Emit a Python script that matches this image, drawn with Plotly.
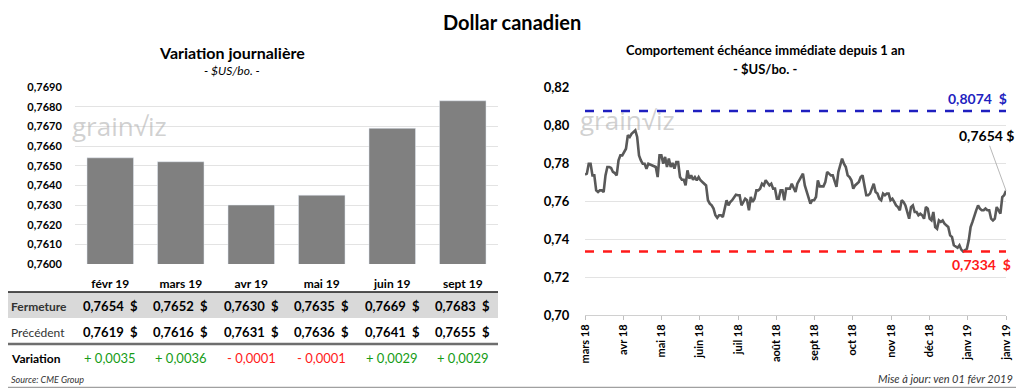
import numpy as np
import plotly.graph_objects as go

# ---------------- data ----------------
months = ["févr 19", "mars 19", "avr 19", "mai 19", "juin 19", "sept 19"]
fermeture = [0.7654, 0.7652, 0.7630, 0.7635, 0.7669, 0.7683]
precedent = [0.7619, 0.7616, 0.7631, 0.7636, 0.7641, 0.7655]
variation = [0.0035, 0.0036, -0.0001, -0.0001, 0.0029, 0.0029]

hist_ticks = ["mars 18", "avr 18", "mai 18", "juin 18", "juil 18", "août 18",
              "sept 18", "oct 18", "nov 18", "déc 18", "janv 19", "janv 19"]
hist_values = [
    0.7739, 0.7744, 0.7796, 0.7796, 0.7735, 0.7735, 0.7656, 0.7647, 0.7656, 0.7656,
    0.7647, 0.7735, 0.7779, 0.7779, 0.7774, 0.7753, 0.7747, 0.7735, 0.7814, 0.7840,
    0.7840, 0.7858, 0.7875, 0.7946, 0.7937, 0.7954, 0.7963, 0.7972, 0.7937, 0.7840,
    0.7814, 0.7796, 0.7796, 0.7770, 0.7796, 0.7791, 0.7788, 0.7782, 0.7779, 0.7726,
    0.7840, 0.7840, 0.7796, 0.7832, 0.7779, 0.7823, 0.7779, 0.7800, 0.7770, 0.7805,
    0.7805, 0.7726, 0.7712, 0.7712, 0.7682, 0.7761, 0.7718, 0.7735, 0.7712, 0.7726,
    0.7709, 0.7726, 0.7709, 0.7700, 0.7691, 0.7682, 0.7604, 0.7586, 0.7577, 0.7560,
    0.7525, 0.7512, 0.7525, 0.7525, 0.7516, 0.7568, 0.7604, 0.7577, 0.7595, 0.7604,
    0.7621, 0.7633, 0.7630, 0.7630, 0.7577, 0.7595, 0.7612, 0.7604, 0.7551, 0.7621,
    0.7595, 0.7612, 0.7656, 0.7656, 0.7665, 0.7691, 0.7682, 0.7709, 0.7695, 0.7682,
    0.7691, 0.7665, 0.7665, 0.7612, 0.7612, 0.7656, 0.7656, 0.7604, 0.7665, 0.7665,
    0.7665, 0.7691, 0.7665, 0.7647, 0.7691, 0.7709, 0.7726, 0.7744, 0.7682, 0.7647,
    0.7612, 0.7586, 0.7604, 0.7604, 0.7621, 0.7709, 0.7677, 0.7677, 0.7677, 0.7700,
    0.7753, 0.7744, 0.7735, 0.7735, 0.7709, 0.7674, 0.7753, 0.7796, 0.7823, 0.7796,
    0.7779, 0.7735, 0.7726, 0.7709, 0.7665, 0.7682, 0.7691, 0.7700, 0.7726, 0.7735,
    0.7682, 0.7630, 0.7630, 0.7639, 0.7665, 0.7691, 0.7647, 0.7639, 0.7612, 0.7604,
    0.7639, 0.7630, 0.7639, 0.7639, 0.7604, 0.7612, 0.7595, 0.7577, 0.7568, 0.7551,
    0.7604, 0.7595, 0.7577, 0.7542, 0.7507, 0.7568, 0.7577, 0.7542, 0.7542, 0.7525,
    0.7533, 0.7525, 0.7507, 0.7568, 0.7560, 0.7507, 0.7498, 0.7542, 0.7463, 0.7454,
    0.7498, 0.7490, 0.7498, 0.7481, 0.7472, 0.7463, 0.7419, 0.7411, 0.7367, 0.7358,
    0.7354, 0.7367, 0.7344, 0.7334, 0.7340, 0.7349, 0.7393, 0.7463, 0.7490, 0.7525,
    0.7551, 0.7577, 0.7560, 0.7551, 0.7551, 0.7560, 0.7551, 0.7551, 0.7507, 0.7498,
    0.7507, 0.7568, 0.7551, 0.7533, 0.7621, 0.7630, 0.7654,
]
high_1y = 0.8074
low_1y = 0.7334

# ---------------- helpers ----------------
# The page body has an 8px margin: the figure is sized so that it ends exactly
# at the window edge, and page-pixel positions are converted to paper units.
OFF = 8
W, H = 1024 - OFF, 388 - OFF
FONT = "Lato"


def px(x):
    return (x - OFF) / W


def py(y):
    return 1 - (y - OFF) / H


def fr(v, dec=4):
    return f"{v:.{dec}f}".replace(".", ",")


fig = go.Figure()

# Left: bars
fig.add_trace(go.Bar(
    x=months, y=fermeture, marker_color="#808080", xaxis="x", yaxis="y",
    showlegend=False, hoverinfo="x+y",
))

# Right: line
idx = list(range(len(hist_values)))
n_last = len(hist_values) - 1
fig.add_trace(go.Scatter(
    x=idx, y=hist_values, mode="lines", line=dict(color="#595959", width=2.6),
    xaxis="x2", yaxis="y2", showlegend=False,
))
fig.add_trace(go.Scatter(
    x=[0, n_last], y=[high_1y, high_1y], mode="lines",
    line=dict(color="#1f1fbf", width=2.6, dash="dash"),
    xaxis="x2", yaxis="y2", showlegend=False,
))
fig.add_trace(go.Scatter(
    x=[0, n_last], y=[low_1y, low_1y], mode="lines",
    line=dict(color="#ff1a1a", width=2.6, dash="dash"),
    xaxis="x2", yaxis="y2", showlegend=False,
))

tickpos = list(np.linspace(0, n_last, len(hist_ticks)))

grid = "#e3e3e3"
fig.update_layout(
    width=W, height=H,
    margin=dict(l=0, r=0, t=0, b=0, pad=0, autoexpand=False),
    paper_bgcolor="white", plot_bgcolor="white",
    separators=", ",
    font=dict(family=FONT, color="black"),
    bargap=0.34,
    xaxis=dict(
        domain=[px(75), px(498)], type="category",
        tickfont=dict(size=12, weight="bold", family=FONT),
        ticks="outside", ticklen=9, tickcolor="rgba(0,0,0,0)",
        showgrid=False, showline=False, zeroline=False, fixedrange=True,
        automargin=False,
    ),
    yaxis=dict(
        domain=[py(264), py(87)], range=[0.7600, 0.7690],
        tickvals=[0.7600 + 0.0010 * i for i in range(10)],
        tickformat=".4f", ticksuffix=" $",
        tickfont=dict(size=11, weight="bold", family=FONT),
        ticks="outside", ticklen=10, tickcolor="rgba(0,0,0,0)",
        showgrid=True, gridcolor=grid, gridwidth=1,
        zeroline=False, showline=False, automargin=False,
    ),
    xaxis2=dict(
        domain=[px(585), px(1006)], range=[0, n_last], anchor="y2",
        tickvals=tickpos, ticktext=hist_ticks, tickangle=-90,
        tickfont=dict(size=11, weight="bold", family=FONT),
        ticks="outside", ticklen=4, tickcolor="#bfbfbf",
        showline=True, linecolor="#d0d0d0", linewidth=1,
        showgrid=False, zeroline=False, automargin=False,
    ),
    yaxis2=dict(
        domain=[py(315), py(87)], range=[0.70, 0.82], anchor="x2",
        tickvals=[0.70, 0.72, 0.74, 0.76, 0.78, 0.80, 0.82],
        tickformat=".2f", ticksuffix=" $",
        tickfont=dict(size=13, weight="bold", family=FONT),
        ticks="outside", ticklen=12, tickcolor="rgba(0,0,0,0)",
        showgrid=True, gridcolor=grid, gridwidth=1,
        zeroline=False, showline=False, automargin=False,
    ),
)

shapes = []
# Table decorations
shapes.append(dict(type="rect", xref="paper", yref="paper",
                   x0=px(8), x1=px(498), y0=py(318), y1=py(292),
                   fillcolor="#d9d9d9", line=dict(width=0), layer="below"))
shapes.append(dict(type="line", xref="paper", yref="paper",
                   x0=px(8), x1=px(498), y0=py(292), y1=py(292),
                   line=dict(color="#1a1a1a", width=1.5)))
shapes.append(dict(type="line", xref="paper", yref="paper",
                   x0=px(8), x1=px(498), y0=py(344), y1=py(344),
                   line=dict(color="#6e6e6e", width=2.5)))
# Outer frame (right and bottom edges)
shapes.append(dict(type="line", xref="paper", yref="paper",
                   x0=px(1023.4), x1=px(1023.4), y0=py(387.4), y1=py(8),
                   line=dict(color="#a0a0a0", width=1.2)))
shapes.append(dict(type="line", xref="paper", yref="paper",
                   x0=px(8), x1=px(1023.4), y0=py(387.4), y1=py(387.4),
                   line=dict(color="#a0a0a0", width=1.2)))

ann = []
# Titles
ann.append(dict(text="<b>Dollar canadien</b>", x=px(512), y=py(22), xref="paper", yref="paper",
                showarrow=False, font=dict(size=20, family=FONT), xanchor="center", yanchor="middle"))
ann.append(dict(text="<b>Variation journalière</b>", x=px(232), y=py(52), xref="paper", yref="paper",
                showarrow=False, font=dict(size=16, family=FONT), xanchor="center", yanchor="middle"))
ann.append(dict(text="<i>- $US/bo. -</i>", x=px(232), y=py(70), xref="paper", yref="paper",
                showarrow=False, font=dict(size=12, family=FONT), xanchor="center", yanchor="middle"))
ann.append(dict(text="<b>Comportement échéance immédiate depuis 1 an</b>", x=px(765), y=py(50),
                xref="paper", yref="paper", showarrow=False, font=dict(size=13, family=FONT),
                xanchor="center", yanchor="middle"))
ann.append(dict(text="<b>- $US/bo. -</b>", x=px(765), y=py(69), xref="paper", yref="paper",
                showarrow=False, font=dict(size=13, family=FONT), xanchor="center", yanchor="middle"))

# Watermarks
for wx, wy in [(70, 126), (578, 120)]:
    ann.append(dict(text="grain√iz", x=px(wx), y=py(wy), xref="paper", yref="paper",
                    showarrow=False, font=dict(size=26, family="Open Sans", color="rgba(170,170,170,0.55)"),
                    xanchor="left", yanchor="middle"))

# Table row labels
ann.append(dict(text="<b>Fermeture</b>", x=px(9), y=py(306), xref="paper", yref="paper",
                showarrow=False, font=dict(size=12, family=FONT, color="#333333"), xanchor="left", yanchor="middle"))
ann.append(dict(text="Précédent", x=px(9), y=py(332), xref="paper", yref="paper",
                showarrow=False, font=dict(size=12, family=FONT, color="#333333"), xanchor="left", yanchor="middle"))
ann.append(dict(text="<b>Variation</b>", x=px(9), y=py(358), xref="paper", yref="paper",
                showarrow=False, font=dict(size=12, family=FONT), xanchor="left", yanchor="middle"))

for m, f, p, v in zip(months, fermeture, precedent, variation):
    ann.append(dict(text=f"<b>{fr(f)}  $</b>", x=m, y=py(306), xref="x", yref="paper",
                    showarrow=False, font=dict(size=13, family=FONT), xanchor="center", yanchor="middle"))
    ann.append(dict(text=f"<b>{fr(p)}  $</b>", x=m, y=py(332), xref="x", yref="paper",
                    showarrow=False, font=dict(size=13, family=FONT), xanchor="center", yanchor="middle"))
    sign = "+" if v >= 0 else "-"
    col = "#169c16" if v >= 0 else "#ff1a1a"
    ann.append(dict(text=f"{sign} {fr(abs(v))}", x=m, y=py(358), xref="x", yref="paper",
                    showarrow=False, font=dict(size=13, family=FONT, color=col),
                    xanchor="center", yanchor="middle"))

ann.append(dict(text="<i>Source: CME Group</i>", x=px(9), y=py(379), xref="paper", yref="paper",
                showarrow=False, font=dict(size=9, family=FONT, color="#333333"), xanchor="left", yanchor="middle"))
ann.append(dict(text="<i>Mise à jour: ven 01 févr 2019</i>", x=px(1015), y=py(378), xref="paper", yref="paper",
                showarrow=False, font=dict(size=11, family=FONT, color="#333333"), xanchor="right", yanchor="middle"))

# Right chart labels
ann.append(dict(text=f"<b>{fr(high_1y)}  $</b>", x=px(1009), y=py(99), xref="paper", yref="paper",
                showarrow=False, font=dict(size=14, family=FONT, color="#1f1fbf"), xanchor="right", yanchor="middle"))
ann.append(dict(text=f"<b>{fr(low_1y)}  $</b>", x=px(1013), y=py(264), xref="paper", yref="paper",
                showarrow=False, font=dict(size=14, family=FONT, color="#ff1a1a"), xanchor="right", yanchor="middle"))
ann.append(dict(text=f"<b>{fr(hist_values[-1])} $</b>", x=n_last, y=hist_values[-1], xref="x2", yref="y2",
                showarrow=True, arrowhead=0, arrowwidth=0.8, arrowcolor="#a6a6a6",
                ax=-20, ay=-55, font=dict(size=14, family=FONT, color="black")))

fig.update_layout(shapes=shapes, annotations=ann)
fig.write_html("out.html")
